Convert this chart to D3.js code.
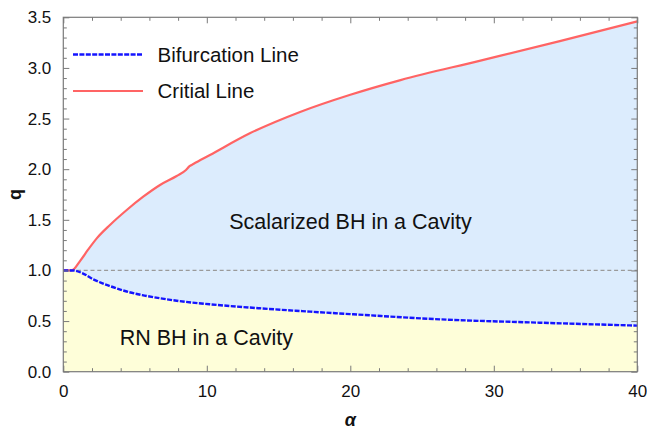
<!DOCTYPE html>
<html>
<head>
<meta charset="utf-8">
<script src="https://cdn.jsdelivr.net/npm/d3@7"></script>
<style>
  body { margin: 0; background: #fff; }
  svg text { font-family: "Liberation Sans", Arial, sans-serif; fill: #111; }
</style>
</head>
<body>
<svg id="chart" width="647" height="434"></svg>
<script>
// critical line (red)
var critAlpha = [0, 0.58, 1.2, 1.7, 2.33, 3.25, 4.42, 5.57, 6.74, 7.9, 8.55, 8.8, 9.06, 10.22, 13.0, 16.5, 20.0, 23.5, 29.0, 34.6, 40];
var critQ     = [1.0, 1.0, 1.1, 1.2, 1.317, 1.449, 1.597, 1.728, 1.844, 1.933, 1.992, 2.03, 2.051, 2.14, 2.354, 2.565, 2.735, 2.88, 3.07, 3.265, 3.46];

// bifurcation line (blue, dashed)
var bifAlpha = [0, 0.7, 1.3, 2.09, 3.2, 4.42, 5.5, 6.74, 8.5, 10.2, 13.7, 17.2, 20.2, 26.25, 33.2, 40];
var bifQ     = [1.0, 1.0, 0.975, 0.912, 0.848, 0.792, 0.756, 0.725, 0.69, 0.666, 0.626, 0.593, 0.567, 0.517, 0.484, 0.455];

var xTicks = [0, 10, 20, 30, 40];
var yTicks = [0, 0.5, 1.0, 1.5, 2.0, 2.5, 3.0, 3.5];
var legendLabels = ["Bifurcation Line", "Critial Line"];
var regionLabels = ["Scalarized BH in a Cavity", "RN BH in a Cavity"];

var svg = d3.select("#chart");
// note: "top" is taken by window.top, so use plot* names
var plotLeft = 63.3, plotRight = 637.3, plotTop = 17.3, plotBottom = 371.7;

var x = d3.scaleLinear().domain([0, 40]).range([plotLeft, plotRight]);
var y = d3.scaleLinear().domain([0, 3.5]).range([plotBottom, plotTop]);

var crit = critAlpha.map(function(a, i) { return [a, critQ[i]]; });
var bif = bifAlpha.map(function(a, i) { return [a, bifQ[i]]; });

// linear lookups so the band between the two lines can be filled
var critAt = d3.scaleLinear().domain(critAlpha).range(critQ);
var bifAt = d3.scaleLinear().domain(bifAlpha).range(bifQ);
var allAlpha = Array.from(new Set(critAlpha.concat(bifAlpha))).sort(d3.ascending);

// yellow: below the bifurcation line
svg.append("path")
  .datum(bif)
  .attr("fill", "#fefed9")
  .attr("d", d3.area()
    .x(function(d) { return x(d[0]); })
    .y0(y(0))
    .y1(function(d) { return y(d[1]); })
    .curve(d3.curveMonotoneX));

// blue: between the two lines
svg.append("path")
  .datum(allAlpha)
  .attr("fill", "#dcecfd")
  .attr("d", d3.area()
    .x(function(a) { return x(a); })
    .y0(function(a) { return y(bifAt(a)); })
    .y1(function(a) { return y(critAt(a)); })
    .curve(d3.curveMonotoneX));

// q = 1 reference
svg.append("line")
  .attr("x1", x(0)).attr("x2", x(40))
  .attr("y1", y(1)).attr("y2", y(1))
  .attr("stroke", "#9a9a9a")
  .attr("stroke-width", 1.2)
  .attr("stroke-dasharray", "4,2.8");

var line = d3.line()
  .x(function(d) { return x(d[0]); })
  .y(function(d) { return y(d[1]); })
  .curve(d3.curveMonotoneX);

svg.append("path")
  .datum(crit)
  .attr("fill", "none")
  .attr("stroke", "#ff6464")
  .attr("stroke-width", 2.2)
  .attr("d", line);

svg.append("path")
  .datum(bif)
  .attr("fill", "none")
  .attr("stroke", "#1414ff")
  .attr("stroke-width", 2.4)
  .attr("stroke-dasharray", "5,1.4")
  .attr("d", line);

// frame with inward ticks on all sides
var frameColor = "#7a7a7a";
svg.append("rect")
  .attr("x", plotLeft).attr("y", plotTop)
  .attr("width", plotRight - plotLeft).attr("height", plotBottom - plotTop)
  .attr("fill", "none")
  .attr("stroke", frameColor)
  .attr("stroke-width", 1.2);

function tickSet(g, axis) {
  g.call(axis);
  g.select(".domain").remove();
  g.selectAll("line").attr("stroke", frameColor).attr("stroke-width", 1);
}

var xMinor = d3.range(0, 41, 2).filter(function(v) { return v % 10 !== 0; });
var yMinor = d3.range(0, 36).filter(function(i) { return i % 5 !== 0; }).map(function(i) { return i / 10; });

// bottom
var gx = svg.append("g").attr("transform", "translate(0," + plotBottom + ")");
tickSet(gx, d3.axisBottom(x).tickValues(xTicks).tickSize(-6).tickPadding(13).tickFormat(d3.format("d")));
gx.selectAll("text").attr("font-size", 17).attr("fill", "#111");
tickSet(svg.append("g").attr("transform", "translate(0," + plotBottom + ")"),
  d3.axisBottom(x).tickValues(xMinor).tickSize(-3.5).tickFormat(""));
// top
tickSet(svg.append("g").attr("transform", "translate(0," + plotTop + ")"),
  d3.axisTop(x).tickValues(xTicks).tickSize(-6).tickFormat(""));
tickSet(svg.append("g").attr("transform", "translate(0," + plotTop + ")"),
  d3.axisTop(x).tickValues(xMinor).tickSize(-3.5).tickFormat(""));
// left
var gy = svg.append("g").attr("transform", "translate(" + plotLeft + ",0)");
tickSet(gy, d3.axisLeft(y).tickValues(yTicks).tickSize(-6).tickPadding(12).tickFormat(d3.format(".1f")));
gy.selectAll("text").attr("font-size", 17).attr("fill", "#111");
tickSet(svg.append("g").attr("transform", "translate(" + plotLeft + ",0)"),
  d3.axisLeft(y).tickValues(yMinor).tickSize(-3.5).tickFormat(""));
// right
tickSet(svg.append("g").attr("transform", "translate(" + plotRight + ",0)"),
  d3.axisRight(y).tickValues(yTicks).tickSize(-6).tickFormat(""));
tickSet(svg.append("g").attr("transform", "translate(" + plotRight + ",0)"),
  d3.axisRight(y).tickValues(yMinor).tickSize(-3.5).tickFormat(""));

// axis titles
svg.append("text")
  .attr("x", (plotLeft + plotRight) / 2).attr("y", 426)
  .attr("text-anchor", "middle")
  .attr("font-size", 18)
  .attr("font-weight", "bold")
  .attr("font-style", "italic")
  .text("α");

svg.append("text")
  .attr("transform", "translate(21," + (plotTop + plotBottom) / 2 + ") rotate(-90)")
  .attr("text-anchor", "middle")
  .attr("font-size", 18)
  .attr("font-weight", "bold")
  .text("q");

// legend
var legend = svg.append("g");
var legendStyles = [
  { color: "#1414ff", dash: "5,1.4", width: 2.4 },
  { color: "#ff6464", dash: null, width: 2.2 }
];
legendLabels.forEach(function(label, i) {
  var ly = 54.5 + i * 36.5;
  legend.append("line")
    .attr("x1", 73).attr("x2", 143)
    .attr("y1", ly).attr("y2", ly)
    .attr("stroke", legendStyles[i].color)
    .attr("stroke-width", legendStyles[i].width)
    .attr("stroke-dasharray", legendStyles[i].dash);
  legend.append("text")
    .attr("x", 157.5).attr("y", ly + 7.3)
    .attr("font-size", 20.5)
    .text(label);
});

// region labels
svg.append("text")
  .attr("x", 350.5).attr("y", 229.3)
  .attr("text-anchor", "middle")
  .attr("font-size", 21.5)
  .text(regionLabels[0]);

svg.append("text")
  .attr("x", 293).attr("y", 345)
  .attr("text-anchor", "end")
  .attr("font-size", 21.5)
  .text(regionLabels[1]);
</script>
</body>
</html>
